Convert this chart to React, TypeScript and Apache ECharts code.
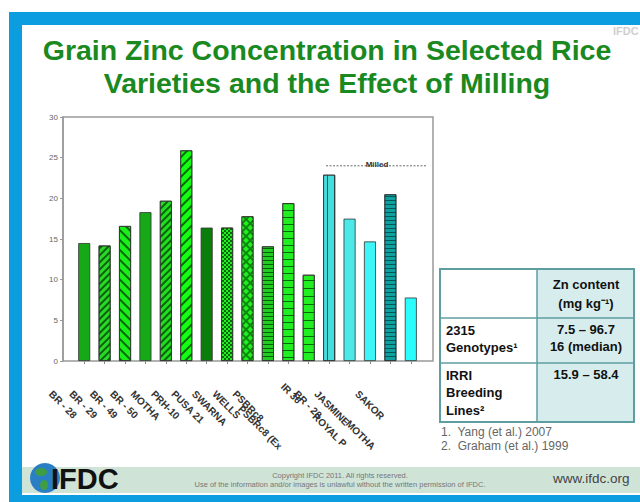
import React, { useEffect, useRef } from 'react';
import * as echarts from 'echarts';

// ---------- data ----------
const categories = [
  'BR - 28', 'BR - 29', 'BR - 49', 'BR - 50', 'MOTHA', 'PRH-10', 'PUSA 21', 'SWARNA',
  'WELLS', 'PSBRc8', 'PSBRc8 (Ex', 'IR 36', 'BR - 28', 'JASMINE', 'ROYAL P', 'SAKOR', 'MOTHA',
];
const zincValues = [14.5, 14.2, 16.6, 18.3, 19.7, 25.9, 16.4, 16.4, 17.8, 14.1, 19.4, 10.6, 22.9, 17.5, 14.7, 20.5, 7.8];
const yMin = 0;
const yMax = 30;
const yStep = 5;
const milledLevel = 24;
const milledLabel = 'Milled';

const titleLines = ['Grain Zinc Concentration in Selected Rice', 'Varieties and the Effect of Milling'];
const tableHeader = ['Zn content', '(mg kg\u207B\u00B9)'];
const rowNames = [['2315', 'Genotypes\u00B9'], ['IRRI', 'Breeding', 'Lines\u00B2']];
const rowValues = [['7.5 \u2013 96.7', '16 (median)'], ['15.9 \u2013 58.4']];
const footnotes = ['1.  Yang (et al.) 2007', '2.  Graham (et al.) 1999'];
const copyrightLines = [
  'Copyright IFDC 2011. All rights reserved.',
  'Use of the information and/or images is unlawful without the written permission of IFDC.',
];

// ---------- styles ----------
const labelLineShift = [0, 0, 0, 0, 0, 0, 0, 0, 0, 0, 2, -1, 0, 0, 3, 0, 4];
const DG = 'rgba(0,70,0,0.8)';
const DT = 'rgba(0,70,70,0.8)';
const stripe = (rot: number, w: number, gap: number, color: string) => ({
  symbol: 'rect', symbolSize: 1, dashArrayX: [1, 0], dashArrayY: [w, gap], rotation: rot, color,
});
const barColors = [
  '#16a816', '#2ad82a', '#19f019', '#16a816', '#22dd22', '#14ff14', '#0b7d0b', '#22ee22',
  '#0a8a0a', '#22cc22', '#22ee22', '#22ee22', '#44dddd', '#4de8e8', '#3ff5f5', '#11a0a0', '#2bfcfc',
];
const barDecals: any[] = [
  null,
  stripe(-Math.PI / 4, 1.2, 2.3, DG),
  stripe(Math.PI / 4, 2, 5, DG),
  null,
  stripe(-Math.PI / 4, 1.5, 3, DG),
  stripe(-Math.PI / 4, 2, 5, DG),
  null,
  { symbol: 'rect', symbolSize: 1, dashArrayX: [[2, 2], [0, 2, 2, 0]], dashArrayY: [2, 0], color: DG },
  { symbol: 'rect', symbolSize: 1, dashArrayX: [3.5, 1.5], dashArrayY: [3.5, 1.5], rotation: Math.PI / 4, color: '#22ee22' },
  stripe(0, 1, 2.5, DG),
  stripe(0, 1, 6, DG),
  stripe(0, 1, 7, DG),
  stripe(Math.PI / 2, 1.5, 4.5, DT),
  null,
  null,
  stripe(0, 1, 2.5, DT),
  null,
];

const FONT = 'Arial, "Liberation Sans", sans-serif';
const GRID = { left: 74, right: 219, top: 117, bottom: 141 };
const W = 640;
const H = 502;

export default function App() {
  const ref = useRef<HTMLDivElement>(null);
  useEffect(() => {
    if (!ref.current) return;
    const chart = echarts.init(ref.current, undefined, { renderer: 'svg' });
    const plotTop = GRID.top;
    const plotBottom = H - GRID.bottom;
    const milledY = plotBottom - ((milledLevel - yMin) / (yMax - yMin)) * (plotBottom - plotTop);

    const graphic: any[] = [];
    // slide frame
    graphic.push({ type: 'rect', z: 20, shape: { x: 9, y: 12, width: W - 9, height: 13 }, style: { fill: '#0b9ddf' } });
    graphic.push({ type: 'rect', z: 20, shape: { x: 9, y: 12, width: 13, height: H - 12 }, style: { fill: '#0b9ddf' } });
    graphic.push({ type: 'rect', z: 20, shape: { x: 9, y: 495, width: W - 9, height: 7 }, style: { fill: '#0b9ddf' } });
    graphic.push({ type: 'rect', z: 19, shape: { x: 22, y: 467, width: W - 22, height: 26 }, style: { fill: '#cfe3d7' } });
    // watermark
    graphic.push({ type: 'text', z: 20, x: 613, y: 31, style: { text: 'IFDC', font: `bold 11px ${FONT}`, fill: '#cfcfcf', align: 'left', verticalAlign: 'middle' } });
    // title
    titleLines.forEach((t, i) => {
      graphic.push({ type: 'text', z: 20, x: 327, y: 50 + i * 33, style: { text: t, font: `bold 28.5px ${FONT}`, fill: '#1a891f', align: 'center', verticalAlign: 'middle' } });
    });
    // plot frame
    graphic.push({ type: 'rect', z: 1, shape: { x: 63, y: plotTop, width: 370, height: plotBottom - plotTop }, style: { fill: 'none', stroke: '#999', lineWidth: 1.5 } });
    // milled annotation
    graphic.push({ type: 'line', z: 20, shape: { x1: 326, y1: milledY, x2: 426, y2: milledY }, style: { stroke: '#444', lineWidth: 0.8, lineDash: [2, 1.5] } });
    graphic.push({ type: 'text', z: 21, x: 377, y: milledY - 1, style: { text: milledLabel, font: `bold 8px ${FONT}`, fill: '#333', align: 'center', verticalAlign: 'middle' } });

    // table
    const tx = 440, tw = 194, cx = 537, ty = 269, r1 = 318, r2 = 363, tb = 422;
    graphic.push({ type: 'rect', z: 20, shape: { x: cx, y: ty, width: tx + tw - cx, height: tb - ty }, style: { fill: '#d7eded' } });
    graphic.push({ type: 'rect', z: 21, shape: { x: tx, y: ty, width: tw, height: tb - ty }, style: { fill: 'none', stroke: '#5f9ea0', lineWidth: 2 } });
    graphic.push({ type: 'line', z: 21, shape: { x1: cx, y1: ty, x2: cx, y2: tb }, style: { stroke: '#5f9ea0', lineWidth: 1.5 } });
    graphic.push({ type: 'line', z: 21, shape: { x1: tx, y1: r1, x2: tx + tw, y2: r1 }, style: { stroke: '#5f9ea0', lineWidth: 1.5 } });
    graphic.push({ type: 'line', z: 21, shape: { x1: tx, y1: r2, x2: tx + tw, y2: r2 }, style: { stroke: '#5f9ea0', lineWidth: 1.5 } });
    const tfont = `bold 13px ${FONT}`;
    tableHeader.forEach((t, i) => {
      graphic.push({ type: 'text', z: 22, x: 586, y: 284 + i * 19, style: { text: t, font: tfont, fill: '#111', align: 'center', verticalAlign: 'middle' } });
    });
    const rowTops = [330, 375];
    rowNames.forEach((lines, r) => {
      lines.forEach((t, i) => {
        graphic.push({ type: 'text', z: 22, x: 446, y: rowTops[r] + i * 17.5, style: { text: t, font: tfont, fill: '#111', align: 'left', verticalAlign: 'middle' } });
      });
    });
    rowValues.forEach((lines, r) => {
      lines.forEach((t, i) => {
        graphic.push({ type: 'text', z: 22, x: 586, y: rowTops[r] - 1 + i * 17.5, style: { text: t, font: tfont, fill: '#111', align: 'center', verticalAlign: 'middle' } });
      });
    });
    footnotes.forEach((t, i) => {
      graphic.push({ type: 'text', z: 22, x: 441, y: 432 + i * 14, style: { text: t, font: `12px ${FONT}`, fill: '#666', align: 'left', verticalAlign: 'middle' } });
    });

    // footer
    graphic.push({ type: 'circle', z: 21, shape: { cx: 45, cy: 478, r: 15 }, style: { fill: '#2a7fc4' } });
    graphic.push({ type: 'ellipse', z: 22, shape: { cx: 41, cy: 472, rx: 6, ry: 4 }, style: { fill: '#3f9e44' } });
    graphic.push({ type: 'ellipse', z: 22, shape: { cx: 44, cy: 485, rx: 4, ry: 5 }, style: { fill: '#3f9e44' } });
    graphic.push({ type: 'text', z: 23, x: 51, y: 479, style: { text: 'IFDC', font: `900 29px ${FONT}`, fill: '#111', align: 'left', verticalAlign: 'middle' } });
    copyrightLines.forEach((t, i) => {
      graphic.push({ type: 'text', z: 22, x: 340, y: 475 + i * 9, style: { text: t, font: `7.5px ${FONT}`, fill: '#777', align: 'center', verticalAlign: 'middle' } });
    });
    graphic.push({ type: 'text', z: 22, x: 553, y: 478, style: { text: 'www.ifdc.org', font: `13.5px ${FONT}`, fill: '#444', align: 'left', verticalAlign: 'middle' } });

    chart.setOption({
      animation: false,
      backgroundColor: '#ffffff',
      grid: { left: GRID.left, right: GRID.right, top: GRID.top, bottom: GRID.bottom },
      xAxis: {
        type: 'category',
        data: categories,
        axisLine: { show: false },
        axisTick: { show: true, alignWithLabel: true, length: 3, lineStyle: { color: '#888' } },
        axisLabel: {
          interval: 0,
          rotate: -45,
          margin: -2,
          align: 'left',
          verticalAlign: 'top',
          lineHeight: 10.5,
          fontSize: 10,
          fontWeight: 'bold',
          fontFamily: FONT,
          color: '#333',
          formatter: (v: string, i: number) => '\n'.repeat(4 + labelLineShift[i]) + v,
        },
      },
      yAxis: {
        type: 'value',
        min: yMin,
        max: yMax,
        interval: yStep,
        offset: 11,
        axisLine: { show: true, lineStyle: { color: '#999', width: 1.5 } },
        axisTick: { show: true, length: 3, lineStyle: { color: '#999' } },
        splitLine: { show: false },
        axisLabel: { fontSize: 8, color: '#666', margin: 5, fontFamily: FONT },
      },
      series: [
        {
          type: 'bar',
          barWidth: 12,
          itemStyle: { borderColor: '#333', borderWidth: 0.8 },
          data: zincValues.map((v, i) => {
            const style: any = { color: barColors[i] };
            if (barDecals[i]) style.decal = barDecals[i];
            return { value: v, itemStyle: style };
          }),
        },
      ],
      graphic,
    });
    return () => chart.dispose();
  }, []);
  return <div ref={ref} style={{ position: 'fixed', left: 0, top: 0, width: W, height: H }} />;
}
